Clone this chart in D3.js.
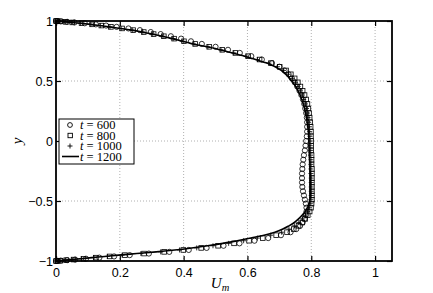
<!DOCTYPE html>
<html>
<head>
<meta charset="utf-8">
<title>Um profile</title>
<script src="https://cdn.jsdelivr.net/npm/d3@7/dist/d3.min.js"></script>
<style>
body { margin: 0; background: #fff; }
text { font-family: "Liberation Sans", Arial, sans-serif; }
.serif { font-family: "Liberation Serif", "DejaVu Serif", serif; }
</style>
</head>
<body>
<script>
// collocation points across the channel (dense near the walls)
var yGrid = [1, 0.999, 0.997, 0.993, 0.988, 0.981, 0.972, 0.962, 0.951, 0.938,
             0.924, 0.908, 0.891, 0.873, 0.853, 0.831, 0.809, 0.785, 0.760, 0.734,
             0.707, 0.679, 0.649, 0.619, 0.588, 0.556, 0.522, 0.489, 0.454, 0.419,
             0.383, 0.346, 0.309, 0.271, 0.233, 0.195, 0.156, 0.118, 0.078, 0.039,
             0, -0.039, -0.078, -0.118, -0.156, -0.195, -0.233, -0.271, -0.309, -0.346,
             -0.383, -0.419, -0.454, -0.489, -0.522, -0.556, -0.588, -0.619, -0.649, -0.679,
             -0.707, -0.734, -0.760, -0.785, -0.809, -0.831, -0.853, -0.873, -0.891, -0.908,
             -0.924, -0.938, -0.951, -0.962, -0.972, -0.981, -0.988, -0.993, -0.997, -0.999, -1];

// t = 600 (circles)
var u600 = [0, 0.005, 0.015, 0.035, 0.058, 0.09, 0.125, 0.157, 0.19, 0.227,
            0.263, 0.297, 0.328, 0.36, 0.392, 0.423, 0.457, 0.5, 0.539, 0.576,
            0.612, 0.645, 0.677, 0.7, 0.716, 0.729, 0.739, 0.748, 0.756, 0.763,
            0.769, 0.774, 0.778, 0.781, 0.784, 0.786, 0.787, 0.787, 0.787, 0.786,
            0.784, 0.782, 0.78, 0.777, 0.775, 0.773, 0.772, 0.771, 0.771, 0.771,
            0.772, 0.774, 0.777, 0.78, 0.783, 0.785, 0.785, 0.783, 0.779, 0.773,
            0.765, 0.753, 0.735, 0.705, 0.665, 0.622, 0.575, 0.525, 0.472, 0.416,
            0.355, 0.291, 0.231, 0.182, 0.136, 0.094, 0.06, 0.035, 0.015, 0.005, 0];

// t = 800 (squares)
var u800 = [0, 0.004, 0.013, 0.03, 0.051, 0.08, 0.113, 0.142, 0.172, 0.207,
            0.242, 0.275, 0.306, 0.338, 0.37, 0.401, 0.436, 0.48, 0.521, 0.562,
            0.602, 0.638, 0.674, 0.701, 0.721, 0.736, 0.748, 0.758, 0.766, 0.773,
            0.779, 0.784, 0.788, 0.791, 0.793, 0.795, 0.797, 0.798, 0.799, 0.799,
            0.8, 0.8, 0.8, 0.801, 0.801, 0.801, 0.802, 0.802, 0.802, 0.802,
            0.802, 0.802, 0.802, 0.802, 0.801, 0.799, 0.795, 0.789, 0.781, 0.772,
            0.76, 0.745, 0.724, 0.69, 0.648, 0.605, 0.558, 0.508, 0.455, 0.399,
            0.339, 0.276, 0.216, 0.168, 0.125, 0.086, 0.055, 0.032, 0.014, 0.005, 0];

// t = 1000 (plus)
var u1000 = [0, 0.004, 0.012, 0.028, 0.049, 0.077, 0.109, 0.139, 0.169, 0.204,
             0.239, 0.272, 0.303, 0.335, 0.367, 0.398, 0.432, 0.476, 0.517, 0.557,
             0.596, 0.631, 0.667, 0.694, 0.713, 0.728, 0.74, 0.75, 0.758, 0.765,
             0.771, 0.776, 0.781, 0.785, 0.788, 0.79, 0.792, 0.794, 0.795, 0.796,
             0.797, 0.797, 0.798, 0.798, 0.799, 0.799, 0.799, 0.799, 0.8, 0.8,
             0.8, 0.8, 0.8, 0.799, 0.797, 0.794, 0.789, 0.781, 0.772, 0.761,
             0.747, 0.73, 0.707, 0.673, 0.631, 0.588, 0.541, 0.492, 0.441, 0.387,
             0.328, 0.266, 0.207, 0.161, 0.119, 0.08, 0.05, 0.029, 0.012, 0.004, 0];

// t = 1200 (solid line)
var u1200 = [0, 0.004, 0.012, 0.028, 0.048, 0.076, 0.108, 0.137, 0.167, 0.202,
             0.237, 0.27, 0.301, 0.333, 0.365, 0.396, 0.43, 0.474, 0.514, 0.553,
             0.591, 0.625, 0.661, 0.687, 0.706, 0.72, 0.732, 0.742, 0.751, 0.758,
             0.765, 0.77, 0.775, 0.779, 0.782, 0.785, 0.787, 0.789, 0.791, 0.792,
             0.793, 0.793, 0.794, 0.794, 0.795, 0.796, 0.796, 0.797, 0.797, 0.797,
             0.797, 0.797, 0.797, 0.796, 0.793, 0.788, 0.781, 0.771, 0.76, 0.747,
             0.73, 0.711, 0.686, 0.652, 0.61, 0.568, 0.523, 0.475, 0.425, 0.372,
             0.314, 0.253, 0.196, 0.152, 0.112, 0.076, 0.048, 0.028, 0.012, 0.004, 0];

var xTicks = [0, 0.2, 0.4, 0.6, 0.8, 1];
var yTicks = [-1, -0.5, 0, 0.5, 1];
var legendLabels = ["600", "800", "1000", "1200"];

var w = 433, h = 293;
var mLeft = 56, mRight = 392, mTop = 21, mBottom = 261;

var svg = d3.select("body").append("svg")
    .attr("width", w)
    .attr("height", h);

var x = d3.scaleLinear().domain([0, 1.053]).range([mLeft, mRight]);
var y = d3.scaleLinear().domain([-1, 1]).range([mBottom, mTop]);

// dotted grid
svg.append("g").selectAll("line")
    .data(xTicks.filter(function(d) { return d > 0; }))
    .enter().append("line")
    .attr("x1", function(d) { return x(d); })
    .attr("x2", function(d) { return x(d); })
    .attr("y1", mTop).attr("y2", mBottom)
    .attr("stroke", "#b0b0b0").attr("stroke-width", 1)
    .attr("stroke-dasharray", "1,2");
svg.append("g").selectAll("line")
    .data(yTicks.filter(function(d) { return d > -1 && d < 1; }))
    .enter().append("line")
    .attr("y1", function(d) { return y(d); })
    .attr("y2", function(d) { return y(d); })
    .attr("x1", mLeft).attr("x2", mRight)
    .attr("stroke", "#b0b0b0").attr("stroke-width", 1)
    .attr("stroke-dasharray", "1,2");

// markers
var plot = svg.append("g");
var pts = function(arr) {
    return arr.map(function(u, i) { return [u, yGrid[i]]; });
};

plot.selectAll("circle.c600")
    .data(pts(u600)).enter().append("circle")
    .attr("cx", function(d) { return x(d[0]); })
    .attr("cy", function(d) { return y(d[1]); })
    .attr("r", 2.6)
    .attr("fill", "none").attr("stroke", "#000").attr("stroke-width", 0.8);

plot.selectAll("rect.s800")
    .data(pts(u800)).enter().append("rect")
    .attr("x", function(d) { return x(d[0]) - 2.3; })
    .attr("y", function(d) { return y(d[1]) - 2.3; })
    .attr("width", 4.6).attr("height", 4.6)
    .attr("fill", "none").attr("stroke", "#000").attr("stroke-width", 0.8);

plot.selectAll("path.p1000")
    .data(pts(u1000)).enter().append("path")
    .attr("d", function(d) {
        var cx = x(d[0]), cy = y(d[1]);
        return "M" + (cx - 2.5) + "," + cy + "H" + (cx + 2.5) +
               "M" + cx + "," + (cy - 2.5) + "V" + (cy + 2.5);
    })
    .attr("stroke", "#000").attr("stroke-width", 0.8);

var line = d3.line()
    .x(function(d) { return x(d[0]); })
    .y(function(d) { return y(d[1]); })
    .curve(d3.curveMonotoneY);

plot.append("path")
    .datum(pts(u1200))
    .attr("d", line)
    .attr("fill", "none").attr("stroke", "#000").attr("stroke-width", 1.6);

// axes box with inward ticks
var xAxisB = d3.axisBottom(x).tickValues(xTicks).tickSizeInner(-5).tickSizeOuter(0)
    .tickFormat(function(d) { return d3.format("")(d); });
var xAxisT = d3.axisTop(x).tickValues(xTicks).tickSizeInner(-5).tickSizeOuter(0).tickFormat("");
var yAxisL = d3.axisLeft(y).tickValues(yTicks).tickSizeInner(-5).tickSizeOuter(0)
    .tickFormat(function(d) { return d < 0 ? "\u2212" + Math.abs(d) : d; });
var yAxisR = d3.axisRight(y).tickValues(yTicks).tickSizeInner(-5).tickSizeOuter(0).tickFormat("");

function styleAxis(g) {
    g.select(".domain").remove();
    g.selectAll(".tick line").attr("stroke", "#000").attr("stroke-width", 1.2);
    g.selectAll(".tick text").attr("fill", "#000").attr("font-size", "12.5px")
        .attr("font-family", "Liberation Sans, Arial, sans-serif");
}

svg.append("g").attr("transform", "translate(0," + mBottom + ")").call(xAxisB).call(styleAxis)
    .selectAll(".tick text").attr("dy", "0.95em").attr("y", 4);
svg.append("g").attr("transform", "translate(0," + mTop + ")").call(xAxisT).call(styleAxis);
svg.append("g").attr("transform", "translate(" + mLeft + ",0)").call(yAxisL).call(styleAxis)
    .selectAll(".tick text").attr("x", -3);
svg.append("g").attr("transform", "translate(" + mRight + ",0)").call(yAxisR).call(styleAxis);

svg.append("rect")
    .attr("x", mLeft).attr("y", mTop)
    .attr("width", mRight - mLeft).attr("height", mBottom - mTop)
    .attr("fill", "none").attr("stroke", "#000").attr("stroke-width", 1.8);

// axis labels
var xl = svg.append("text").attr("class", "serif")
    .attr("x", 220).attr("y", 288)
    .attr("text-anchor", "middle").attr("font-size", "15px");
xl.append("tspan").attr("font-style", "italic").text("U");
xl.append("tspan").attr("font-style", "italic").attr("font-size", "10.5px").attr("dy", 3).text("m");

svg.append("text").attr("class", "serif")
    .attr("transform", "translate(22," + y(0) + ") rotate(-90)")
    .attr("text-anchor", "middle").attr("font-size", "15px")
    .attr("font-style", "italic").text("y");

// legend
var lg = svg.append("g").attr("transform", "translate(59,119)");
lg.append("rect").attr("width", 75).attr("height", 45)
    .attr("fill", "#fff").attr("stroke", "#000").attr("stroke-width", 1);

var rowY = function(i) { return 6 + i * 10.5; };
lg.append("circle").attr("cx", 11).attr("cy", rowY(0)).attr("r", 2.4)
    .attr("fill", "none").attr("stroke", "#000").attr("stroke-width", 0.9);
lg.append("rect").attr("x", 9).attr("y", rowY(1) - 2.2).attr("width", 4.4).attr("height", 4.4)
    .attr("fill", "none").attr("stroke", "#000").attr("stroke-width", 0.9);
lg.append("path").attr("d", "M8.5," + rowY(2) + "H13.5M11," + (rowY(2) - 2.5) + "V" + (rowY(2) + 2.5))
    .attr("stroke", "#000").attr("stroke-width", 0.9);
lg.append("line").attr("x1", 3).attr("x2", 20).attr("y1", rowY(3)).attr("y2", rowY(3))
    .attr("stroke", "#000").attr("stroke-width", 1.6);

legendLabels.forEach(function(lab, i) {
    var t = lg.append("text").attr("class", "serif")
        .attr("x", 21).attr("y", rowY(i) + 4.2).attr("font-size", "12.5px");
    t.append("tspan").attr("font-style", "italic").text("t");
    t.append("tspan").text(" = " + lab);
});
</script>
</body>
</html>
